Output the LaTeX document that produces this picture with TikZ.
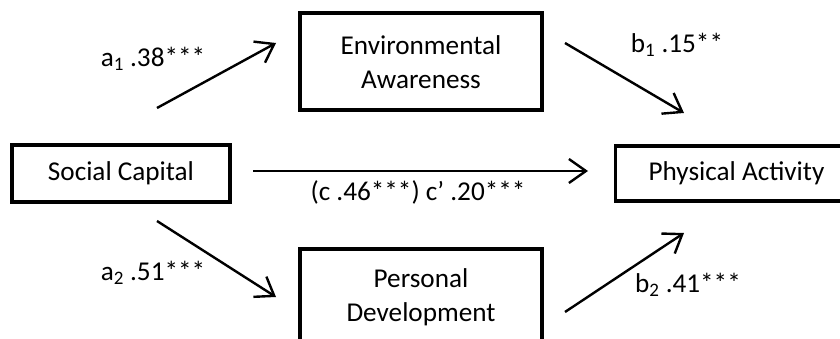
\documentclass[tikz,border=0pt]{standalone}
\usepackage{fontspec}
\setmainfont{Carlito}
\usetikzlibrary{arrows.meta,positioning,calc}

\begin{document}
\begin{tikzpicture}[
            x=1pt, y=-1pt,
            node distance=60pt and 382pt,
            font=\fontsize{27.2}{34}\selectfont,
            block/.style={rectangle, draw, line width=3.5pt, minimum width=242pt, minimum height=97pt, align=center, inner sep=0pt},
            arrow/.style={-{Straight Barb[length=17pt,width=24pt]}, line width=2.4pt},
            lbl/.style={inner sep=0pt}
        ]
            \useasboundingbox (0,0) rectangle (840,339);

            % Predictor and outcome
            \node[block, minimum width=218pt, minimum height=57pt] at (121,173.5) (social) {Social Capital};
            \node[block, minimum height=55pt, right=of social] (phys) {Physical Activity};

            % Mediators
            \coordinate (mid) at (421,173.5);
            \node[block, above=61.5pt of mid] (env) {Environmental\\Awareness};
            \node[block, below=73.5pt of mid] (pers) {Personal\\Development};

            % Arrow ends
            \coordinate (a1s) at (157,108);
            \coordinate (a1e) at (276,43);
            \coordinate (a2s) at (157,221);
            \coordinate (a2e) at (276,297);
            \coordinate (b1s) at (565,43);
            \coordinate (b1e) at (684,113);
            \coordinate (b2s) at (565,312);
            \coordinate (b2e) at (684,233);
            \coordinate (cs) at (253,171);
            \coordinate (ce) at (588,171);

            % Arrows
            \draw[arrow] (a1s) -- (a1e);
            \draw[arrow] (a2s) -- (a2e);
            \draw[arrow] (b1s) -- (b1e);
            \draw[arrow] (b2s) -- (b2e);
            \draw[arrow] (cs) -- (ce);

            % Coefficients
            \node[lbl] (a1) at (153,59) {a\textsubscript{1} .38***};
            \node[lbl] (a2) at (153,273) {a\textsubscript{2} .51***};
            \node[lbl] (b1) at (677,45) {b\textsubscript{1} .15**};
            \node[lbl] (b2) at (688,285) {b\textsubscript{2} .41***};
            \node[lbl] (c) at (418,192) {(c .46***) c’ .20***};
        \end{tikzpicture}
\end{document}
